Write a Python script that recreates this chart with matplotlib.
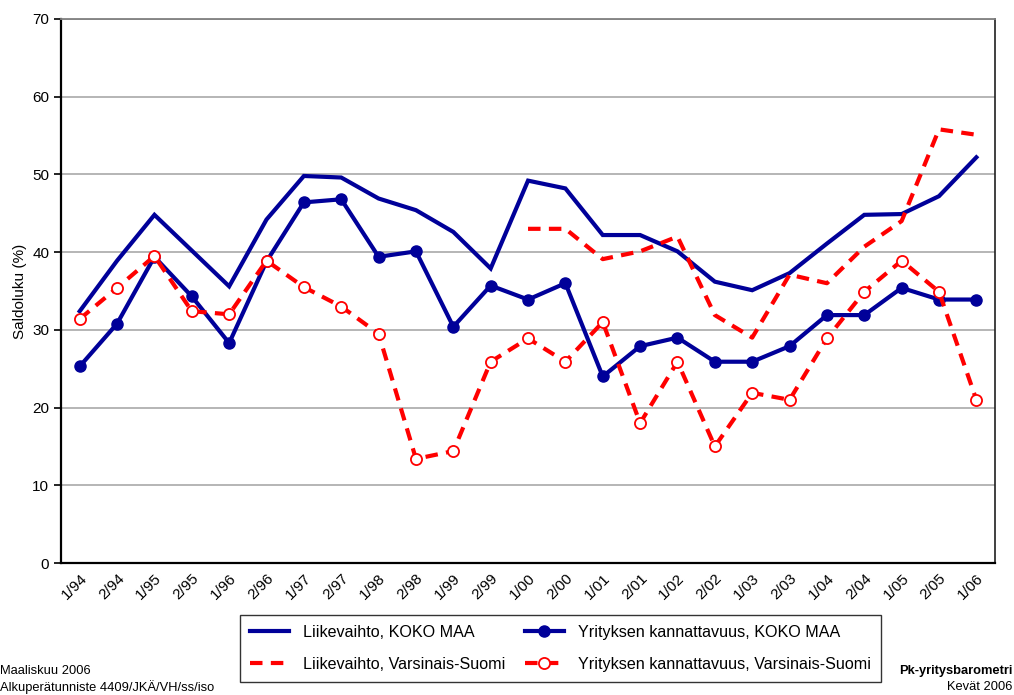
import numpy as np
import matplotlib
matplotlib.use("Agg")
import matplotlib.pyplot as plt

plt.rcParams['font.family'] = ['Liberation Sans', 'DejaVu Sans']

periods = ["1/94", "2/94", "1/95", "2/95", "1/96", "2/96", "1/97", "2/97", "1/98",
           "2/98", "1/99", "2/99", "1/00", "2/00", "1/01", "2/01", "1/02", "2/02",
           "1/03", "2/03", "1/04", "2/04", "1/05", "2/05", "1/06"]

liike_koko = [32.4, 38.9, 44.8, 40.2, 35.6, 44.2, 49.8, 49.6, 46.9, 45.4, 42.6, 37.9,
              49.2, 48.2, 42.2, 42.2, 40.1, 36.2, 35.1, 37.3, 41.1, 44.8, 44.9, 47.2, 52.2]
kannatt_koko = [25.3, 30.8, 39.4, 34.3, 28.3, 38.8, 46.4, 46.8, 39.4, 40.1, 30.4, 35.7,
                33.9, 36.0, 24.0, 27.9, 29.0, 25.9, 25.9, 27.9, 31.9, 31.9, 35.4, 33.9, 33.9]
liike_vs = [np.nan] * 12 + [43.0, 43.0, 39.1, 40.1, 42.0, 31.9, 29.0, 37.1, 36.0,
                            40.7, 44.0, 55.8, 55.1]
kannatt_vs = [31.4, 35.4, 39.5, 32.4, 32.0, 38.9, 35.5, 33.0, 29.5, 13.4, 14.4, 25.9,
              28.9, 25.9, 31.0, 18.0, 25.9, 15.0, 21.9, 21.0, 28.9, 34.9, 38.9, 34.9, 21.0]

blue = "#000099"
red = "#ff0000"

fig = plt.figure(figsize=(10.14, 6.95), dpi=100)
ax = fig.add_axes([0.0602, 0.1899, 0.9211, 0.7828])

x = np.arange(len(periods))
l1, = ax.plot(x, liike_koko, color=blue, lw=3, solid_joinstyle="miter",
              label="Liikevaihto, KOKO MAA", zorder=3)
l2, = ax.plot(x, kannatt_koko, color=blue, lw=3, marker="o", markersize=8,
              label="Yrityksen kannattavuus, KOKO MAA", zorder=3)
l3, = ax.plot(x, liike_vs, color=red, lw=3, dashes=(3, 2),
              label="Liikevaihto, Varsinais-Suomi", zorder=4)
l4, = ax.plot(x, kannatt_vs, color=red, lw=3, dashes=(3, 2), marker="o", markersize=8,
              markerfacecolor="white", markeredgecolor=red, markeredgewidth=1.3,
              label="Yrityksen kannattavuus, Varsinais-Suomi", zorder=4)

ax.set_xlim(-0.5, 24.5)
ax.set_ylim(0, 70)
ax.set_yticks(np.arange(0, 71, 10))
ax.set_xticks(x)
ax.set_xticklabels(periods, rotation=45, ha="right", va="top", rotation_mode="anchor")
ax.tick_params(axis="x", length=0, pad=6, labelsize=11)
ax.tick_params(axis="y", length=5, width=1.2, labelsize=11, direction="out")
ax.yaxis.grid(True, color="#b0b0b0", lw=1.3)
ax.set_axisbelow(True)
for s in ["left", "bottom"]:
    ax.spines[s].set_color("black")
    ax.spines[s].set_linewidth(1.6)
ax.spines["right"].set_color("#202020")
ax.spines["right"].set_linewidth(1.2)
ax.spines["top"].set_color("#808080")
ax.spines["top"].set_linewidth(1.3)
ax.set_ylabel("Saldoluku (%)", fontsize=11, labelpad=4)

leg = fig.legend([l1, l3, l2, l4],
                 ["Liikevaihto, KOKO MAA", "Liikevaihto, Varsinais-Suomi",
                  "Yrityksen kannattavuus, KOKO MAA", "Yrityksen kannattavuus, Varsinais-Suomi"],
                 ncol=2, loc="center", bbox_to_anchor=(0.5528, 0.0669), fontsize=11.6,
                 frameon=True, fancybox=False, edgecolor="black", handlelength=2.4,
                 handletextpad=0.9, labelspacing=1.05, columnspacing=1.2, borderpad=0.6)
leg.get_frame().set_linewidth(1.0)

fig.text(0.0, 1 - 671 / 695, "Maaliskuu 2006", fontsize=9.3, va="center", ha="left")
fig.text(0.0, 1 - 687 / 695, "Alkuperätunniste 4409/JKÄ/VH/ss/iso", fontsize=9.3,
         va="center", ha="left")
fig.text(1012 / 1014, 1 - 671 / 695, "Pk-yritysbarometri", fontsize=9.3,
         fontweight="bold", va="center", ha="right")
fig.text(1012 / 1014, 1 - 687 / 695, "Kevät 2006", fontsize=9.3, va="center", ha="right")

fig.savefig("out.png", dpi=100)
